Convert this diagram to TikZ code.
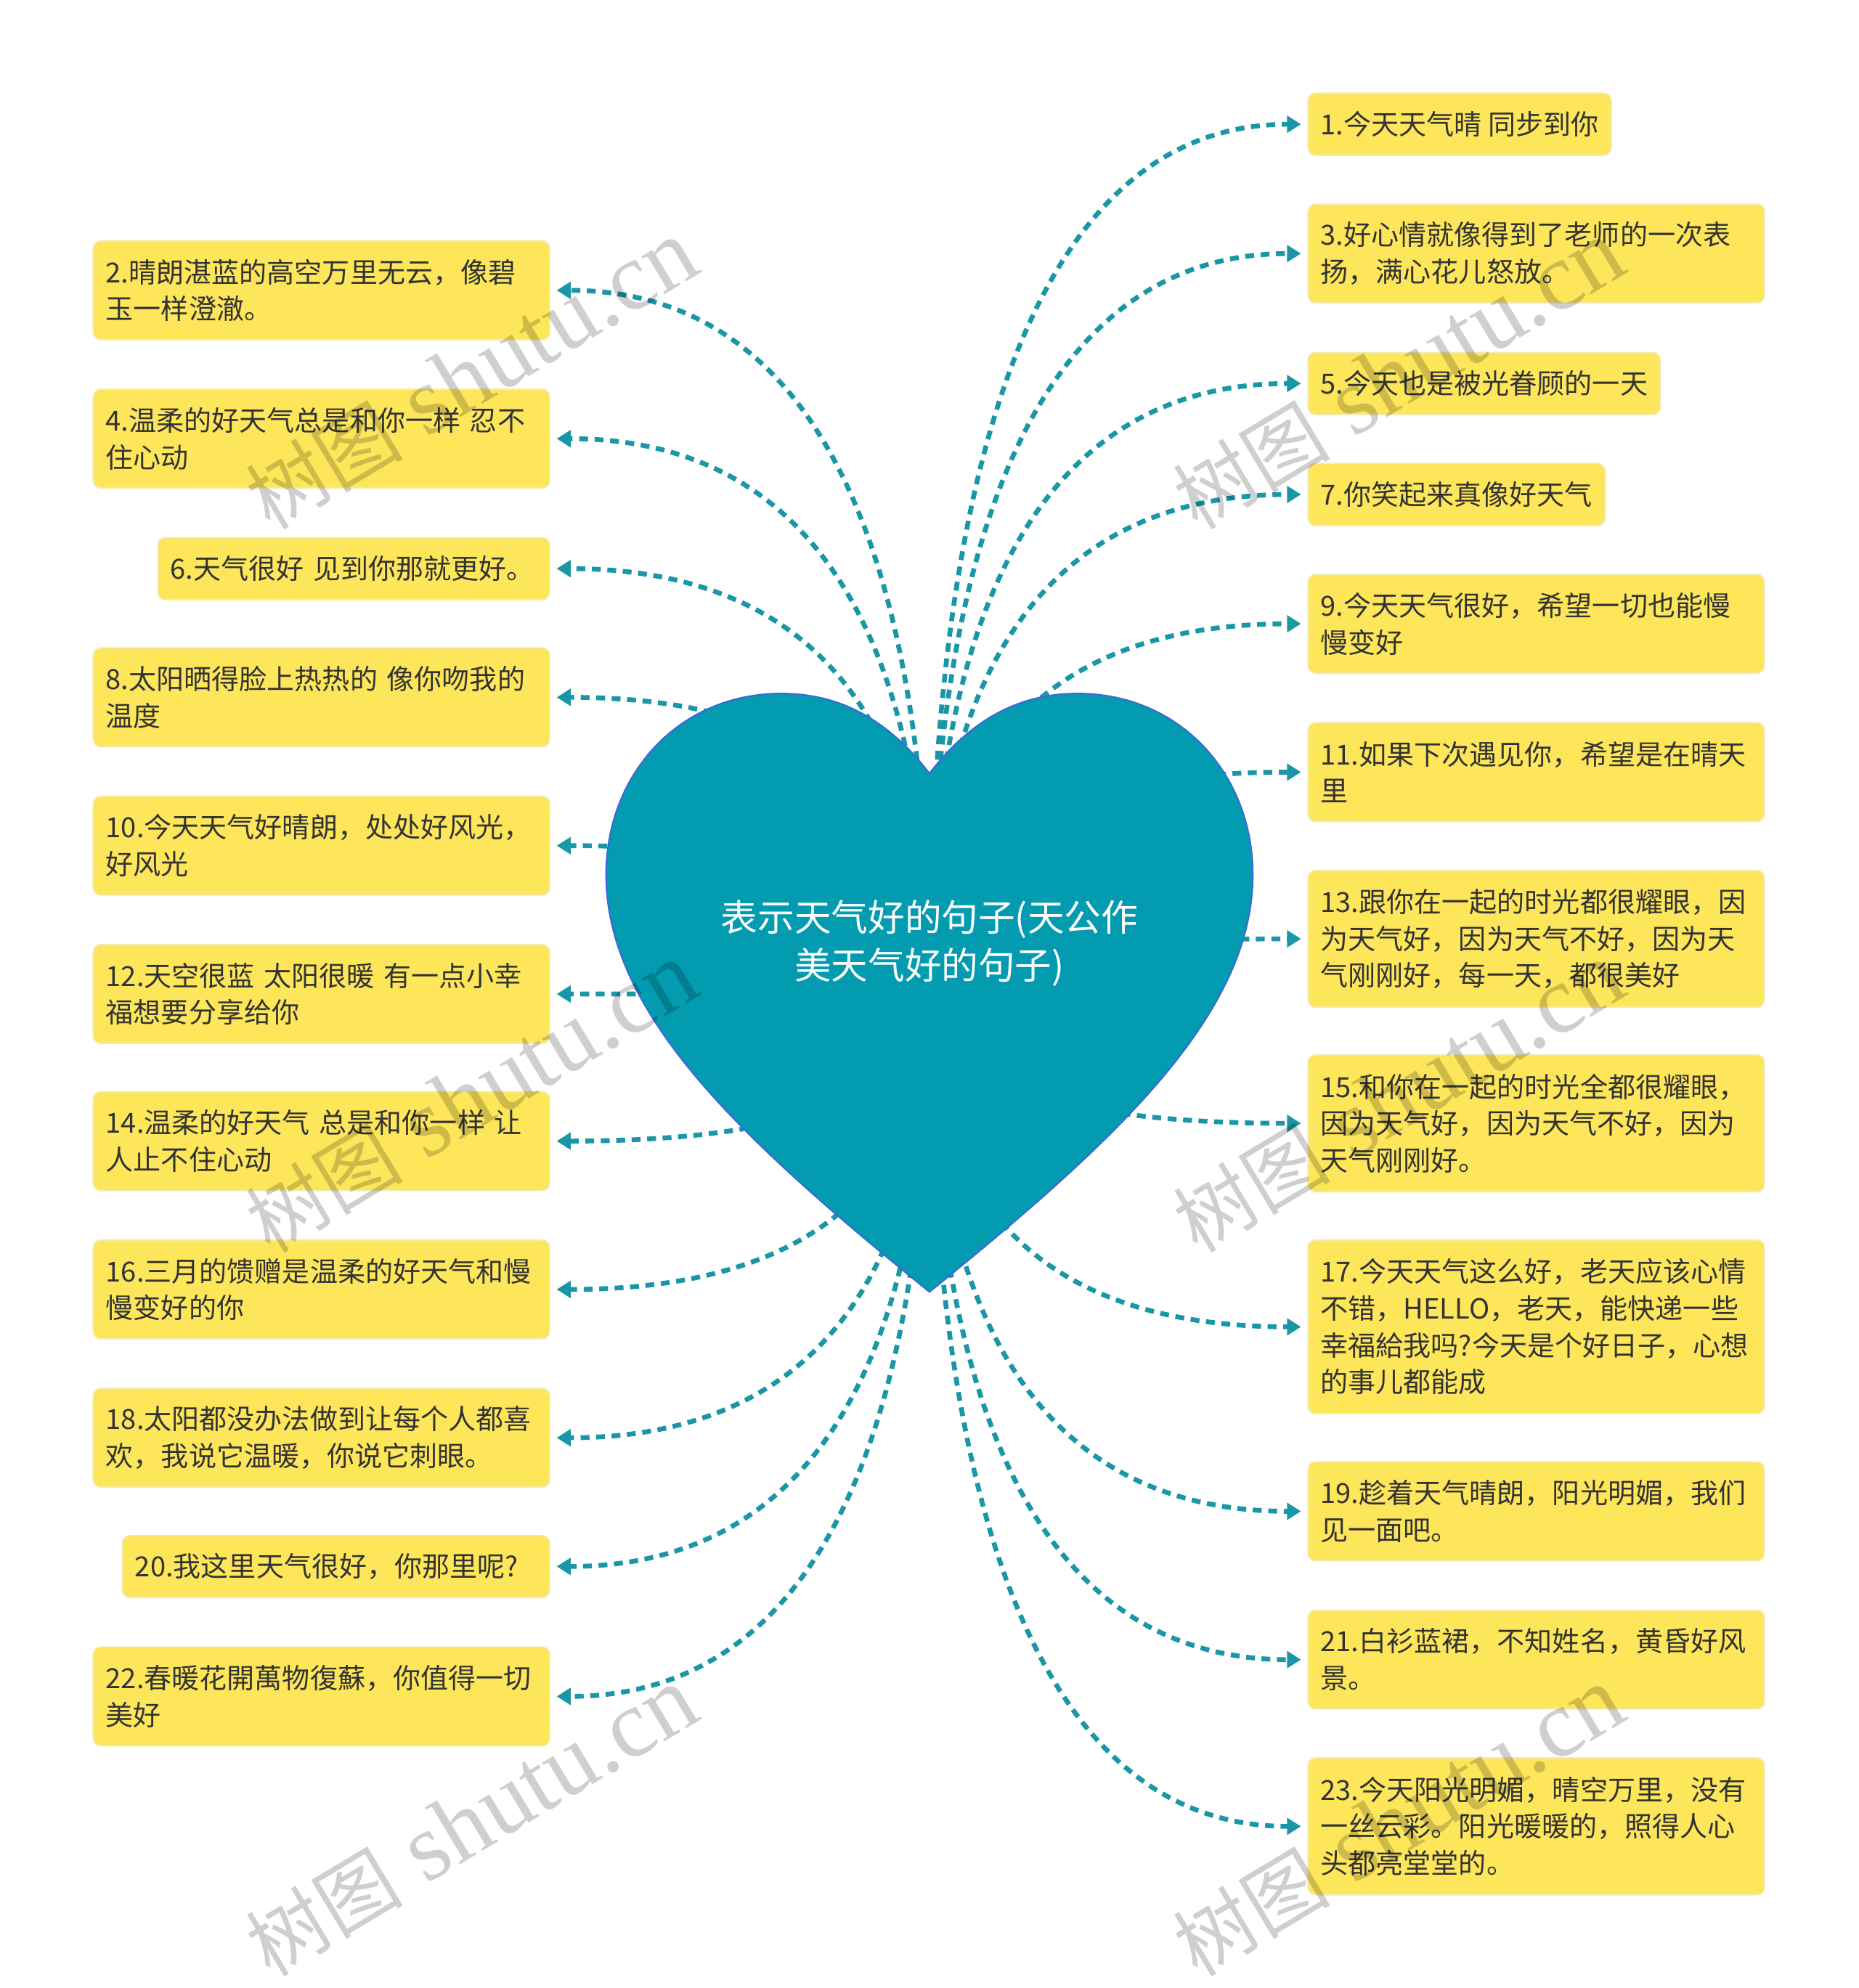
\documentclass[tikz,border=0pt]{standalone}
\usepackage{fontspec}
\setmainfont{Noto Sans CJK SC}
\newfontfamily\wmlat{Liberation Serif}
\newfontfamily\wmcjk{Noto Sans CJK SC}
\usetikzlibrary{arrows.meta,calc}
\definecolor{boxy}{HTML}{FDE65A}
\definecolor{boxb}{HTML}{F3EBB8}
\definecolor{heartc}{HTML}{039BAF}
\definecolor{heartb}{HTML}{3A6AD8}
\definecolor{linec}{HTML}{1A97A6}
\definecolor{txt}{HTML}{333333}
\newcommand{\myconn}[1]{\draw[conn] (hc) .. controls ($(hc)!0.6667!(hc |- #1)$) and ($(#1)!0.6667!(hc |- #1)$) .. (#1);}
\begin{document}
\begin{tikzpicture}[x=0.5pt,y=-0.5pt,
  box/.style={fill=boxy, draw=boxb, line width=0.5pt, rounded corners=3pt, text=txt,
    font=\fontsize{10.9pt}{14.5pt}\selectfont, align=left, inner xsep=5pt, inner ysep=0pt},
  wbox/.style={box, text width=170pt},
  oneln/.style={minimum height=24.5pt},
  twoln/.style={minimum height=39pt},
  threeln/.style={minimum height=54pt},
  fourln/.style={minimum height=68.5pt},
  conn/.style={draw=linec, line width=1.9pt, dash pattern=on 3.5pt off 2.6pt,
    shorten >=2.5pt, -{Triangle[length=5.5pt,width=6.5pt]}},
  titlestyle/.style={text=white, align=center, font=\fontsize{14.5pt}{19pt}\selectfont, inner sep=0pt},
  wm/.style={text=black, opacity=0.19, rotate=31, inner sep=0pt, font=\wmlat\fontsize{38pt}{38pt}\selectfont}
]
\fill[white] (0,0) rectangle (1466,1568);
\useasboundingbox (0,0) rectangle (1466,1568);
\coordinate (hc) at (733,782);

% right boxes
\node[box,oneln,anchor=west] (b1) at (1031,98) {1.今天天气晴 同步到你};
\node[wbox,twoln,anchor=west] (b3) at (1031,200) {3.好心情就像得到了老师的一次表\\扬，满心花儿怒放。};
\node[box,oneln,anchor=west] (b5) at (1031,302.5) {5.今天也是被光眷顾的一天};
\node[box,oneln,anchor=west] (b7) at (1031,390) {7.你笑起来真像好天气};
\node[wbox,twoln,anchor=west] (b9) at (1031,492) {9.今天天气很好，希望一切也能慢\\慢变好};
\node[wbox,twoln,anchor=west] (b11) at (1031,609) {11.如果下次遇见你，希望是在晴天\\里};
\node[wbox,threeln,anchor=west] (b13) at (1031,740.5) {13.跟你在一起的时光都很耀眼，因\\为天气好，因为天气不好，因为天\\气刚刚好，每一天，都很美好};
\node[wbox,threeln,anchor=west] (b15) at (1031,886) {15.和你在一起的时光全都很耀眼，\\因为天气好，因为天气不好，因为\\天气刚刚好。};
\node[wbox,fourln,anchor=west] (b17) at (1031,1046.5) {17.今天天气这么好，老天应该心情\\不错，HELLO，老天，能快递一些\\幸福給我吗?今天是个好日子，心想\\的事儿都能成};
\node[wbox,twoln,anchor=west] (b19) at (1031,1192) {19.趁着天气晴朗，阳光明媚，我们\\见一面吧。};
\node[wbox,twoln,anchor=west] (b21) at (1031,1309) {21.白衫蓝裙，不知姓名，黄昏好风\\景。};
\node[wbox,threeln,anchor=west] (b23) at (1031,1440.5) {23.今天阳光明媚，晴空万里，没有\\一丝云彩。阳光暖暖的，照得人心\\头都亮堂堂的。};

% left boxes
\node[wbox,twoln,anchor=east] (b2) at (434,229) {2.晴朗湛蓝的高空万里无云，像碧\\玉一样澄澈。};
\node[wbox,twoln,anchor=east] (b4) at (434,346) {4.温柔的好天气总是和你一样 忍不\\住心动};
\node[box,oneln,anchor=east,text width=144.5pt] (b6) at (434,448.5) {6.天气很好 见到你那就更好。};
\node[wbox,twoln,anchor=east] (b8) at (434,550) {8.太阳晒得脸上热热的 像你吻我的\\温度};
\node[wbox,twoln,anchor=east] (b10) at (434,667) {10.今天天气好晴朗，处处好风光，\\好风光};
\node[wbox,twoln,anchor=east] (b12) at (434,784) {12.天空很蓝 太阳很暖 有一点小幸\\福想要分享给你};
\node[wbox,twoln,anchor=east] (b14) at (434,900) {14.温柔的好天气 总是和你一样 让\\人止不住心动};
\node[wbox,twoln,anchor=east] (b16) at (434,1017) {16.三月的馈赠是温柔的好天气和慢\\慢变好的你};
\node[wbox,twoln,anchor=east] (b18) at (434,1134) {18.太阳都没办法做到让每个人都喜\\欢，我说它温暖，你说它刺眼。};
\node[box,oneln,anchor=east,text width=158.5pt] (b20) at (434,1235.5) {20.我这里天气很好，你那里呢?};
\node[wbox,twoln,anchor=east] (b22) at (434,1338) {22.春暖花開萬物復蘇，你值得一切\\美好};

% connectors
\myconn{b1.west}\myconn{b3.west}\myconn{b5.west}\myconn{b7.west}
\myconn{b9.west}\myconn{b11.west}\myconn{b13.west}\myconn{b15.west}
\myconn{b17.west}\myconn{b19.west}\myconn{b21.west}\myconn{b23.west}
\myconn{b2.east}\myconn{b4.east}\myconn{b6.east}\myconn{b8.east}
\myconn{b10.east}\myconn{b12.east}\myconn{b14.east}\myconn{b16.east}
\myconn{b18.east}\myconn{b20.east}\myconn{b22.east}

% heart
\path[fill=heartc, draw=heartb, line width=0.6pt]
  (733,610) .. controls (770,562) and (810,547) .. (850,547)
  .. controls (930,547) and (988,610) .. (988,690)
  .. controls (988,800) and (880,900) .. (733,1019)
  .. controls (586,900) and (478,800) .. (478,690)
  .. controls (478,610) and (536,547) .. (616,547)
  .. controls (656,547) and (696,562) .. cycle;
\node[titlestyle] (title) at (733,744) {表示天气好的句子(天公作\\美天气好的句子)};

% watermarks
\foreach \wx/\wy [count=\i] in {372/296,1103/296,372/866,1103/866,372/1437,1103/1437}{
  \node[wm] (wm\i) at (\wx,\wy) {{\wmcjk\fontsize{31pt}{31pt}\selectfont 树图} shutu.cn};
}
\end{tikzpicture}
\end{document}
